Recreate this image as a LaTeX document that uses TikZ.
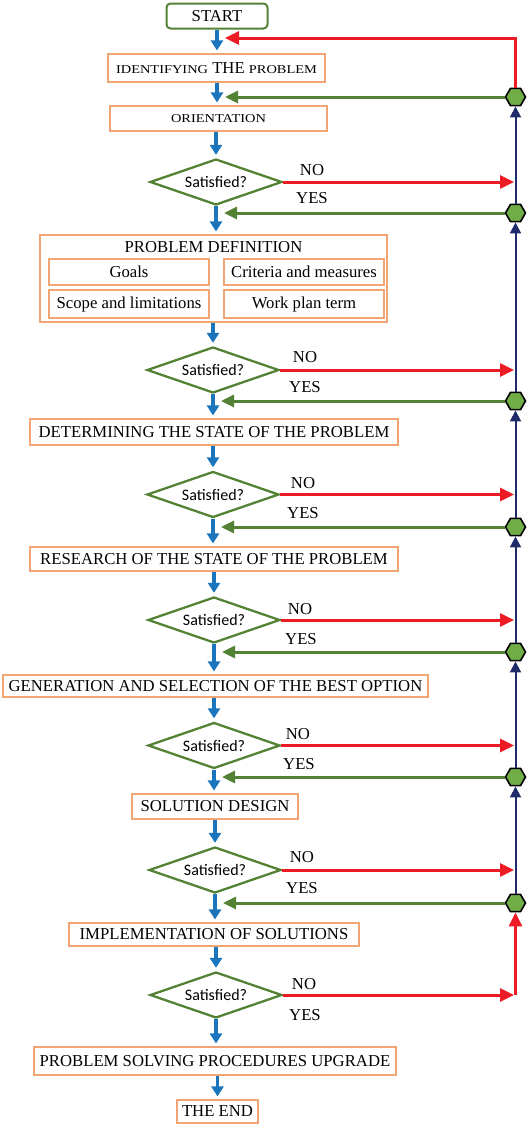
\documentclass[tikz,border=0pt]{standalone}
\usepackage{fontspec}
\usepackage{graphicx}
\setmainfont{Liberation Serif}
\newfontfamily\carl{Carlito}
\usetikzlibrary{shapes.geometric,arrows.meta,calc}
\definecolor{flowblue}{RGB}{27,117,188}
\definecolor{flowred}{RGB}{237,28,36}
\definecolor{flowgreen}{RGB}{84,130,53}
\definecolor{hexfill}{RGB}{112,173,71}
\definecolor{flownavy}{RGB}{31,42,107}
\definecolor{boxorange}{RGB}{240,165,115}
\newcommand\bt{\fontsize{16.7}{18}\selectfont}
\newcommand\fsc[1]{\scalebox{1.2}[1]{\fontsize{12}{14}\selectfont #1}}
\tikzset{
  box/.style={draw=boxorange, line width=1.1pt, inner sep=0pt, font=\bt, fill=white},
  startbox/.style={draw=flowgreen, line width=2pt, rounded corners=4pt, inner sep=0pt, font=\bt, minimum width=101pt, minimum height=25pt},
  dia/.style={diamond, draw=flowgreen, line width=2.3pt, inner sep=0pt, minimum width=132pt, minimum height=46pt, aspect=2.87, font=\carl\fontsize{16}{18}\selectfont},
  hex/.style={regular polygon, regular polygon sides=6, minimum size=20pt, inner sep=0pt, draw=black, line width=1.6pt, fill=hexfill},
  lbl/.style={font=\bt, inner sep=0pt},
  bluearrow/.style={draw=flowblue, line width=3.5pt, -{Triangle[length=10pt,width=12pt]}, shorten >=3pt},
  redarrow/.style={draw=flowred, line width=3pt, -{Triangle[length=14pt,width=13pt]}},
  redline/.style={draw=flowred, line width=3pt},
  greenarrow/.style={draw=flowgreen, line width=3pt, -{Triangle[length=13pt,width=12pt]}},
  navyarrow/.style={draw=flownavy, line width=2pt, -{Triangle[length=11pt,width=11pt]}},
}
\begin{document}
\begin{tikzpicture}[x=1pt,y=-1pt]
\useasboundingbox (0,0) rectangle (529,1125);
% main column
\node[startbox] (start) at (217,16) {START};
\node[box, minimum width=217pt, minimum height=28pt] (ident) at (216.5,68) {\fsc{IDENTIFYING} THE \fsc{PROBLEM}};
\node[box, minimum width=217pt, minimum height=25pt] (orient) at (218.5,118.5) {\fsc{ORIENTATION}};
\node[dia] (d1) at (216,182) {Satisfied?};
\node[box, minimum width=347pt, minimum height=87pt] (pd) at (213.5,278.5) {};
\node[lbl] (pdt) at (213.5,247) {PROBLEM DEFINITION};
\node[box, minimum width=160pt, minimum height=26pt] (goals) at (129,272) {Goals};
\node[box, minimum width=160pt, minimum height=26pt] (crit) at (304,272) {Criteria and measures};
\node[box, minimum width=160pt, minimum height=28pt] (scope) at (129,304) {Scope and limitations};
\node[box, minimum width=160pt, minimum height=28pt] (work) at (304,304) {Work plan term};
\node[dia] (d2) at (213,370) {Satisfied?};
\node[box, minimum width=368pt, minimum height=26pt] (det) at (214,432) {DETERMINING THE STATE OF THE PROBLEM};
\node[dia] (d3) at (213,494.5) {Satisfied?};
\node[box, minimum width=368pt, minimum height=24pt] (res) at (214,559) {RESEARCH OF THE STATE OF THE PROBLEM};
\node[dia] (d4) at (214,620) {Satisfied?};
\node[box, minimum width=425pt, minimum height=22pt] (gen) at (215.5,686) {GENERATION AND SELECTION OF THE BEST OPTION};
\node[dia] (d5) at (214,745.5) {Satisfied?};
\node[box, minimum width=166pt, minimum height=25pt] (sol) at (215,806.5) {SOLUTION DESIGN};
\node[dia] (d6) at (215,870) {Satisfied?};
\node[box, minimum width=290pt, minimum height=23pt] (impl) at (214,934.5) {IMPLEMENTATION OF SOLUTIONS};
\node[dia] (d7) at (216,995) {Satisfied?};
\node[box, minimum width=362pt, minimum height=28pt] (psp) at (215,1061) {PROBLEM SOLVING PROCEDURES UPGRADE};
\node[box, minimum width=81pt, minimum height=23pt] (end) at (217.5,1111.5) {THE END};
% blue flow arrows
\draw[bluearrow] (start.south) -- (start.south |- ident.north);
\draw[bluearrow] (start.south |- ident.south) -- (start.south |- orient.north);
\draw[bluearrow] (d1.north |- orient.south) -- (d1.north);
\draw[bluearrow] (d1.south) -- (d1.south |- pd.north);
\draw[bluearrow] (d2.north |- pd.south) -- (d2.north);
\draw[bluearrow] (d2.south) -- (d2.south |- det.north);
\draw[bluearrow] (d3.north |- det.south) -- (d3.north);
\draw[bluearrow] (d3.south) -- (d3.south |- res.north);
\draw[bluearrow] (d4.north |- res.south) -- (d4.north);
\draw[bluearrow] (d4.south) -- (d4.south |- gen.north);
\draw[bluearrow] (d5.north |- gen.south) -- (d5.north);
\draw[bluearrow] (d5.south) -- (d5.south |- sol.north);
\draw[bluearrow] (d6.north |- sol.south) -- (d6.north);
\draw[bluearrow] (d6.south) -- (d6.south |- impl.north);
\draw[bluearrow] (d7.north |- impl.south) -- (d7.north);
\draw[bluearrow] (d7.south) -- (d7.south |- psp.north);
\draw[bluearrow] (end.north |- psp.south) -- (end.north);
% hexagon junctions
\node[hex] (h0) at (515.5,97) {};
\node[hex] (h1) at (515.5,213) {};
\node[hex] (h2) at (515.5,401) {};
\node[hex] (h3) at (515.5,527) {};
\node[hex] (h4) at (515.5,652) {};
\node[hex] (h5) at (515.5,777) {};
\node[hex] (h6) at (515.5,903) {};
\coordinate (rt) at (225,38);
% navy return line
\draw[navyarrow] (h1.north) -- (h0.south);
\draw[navyarrow] (h2.north) -- (h1.south);
\draw[navyarrow] (h3.north) -- (h2.south);
\draw[navyarrow] (h4.north) -- (h3.south);
\draw[navyarrow] (h5.north) -- (h4.south);
\draw[navyarrow] (h6.north) -- (h5.south);
% top red return
\draw[redarrow] (h0.north) |- (rt);
% YES green arrows
\draw[greenarrow, shorten >=8pt] (h0.west) -- (start.south |- h0);
\draw[greenarrow, shorten >=8pt] (h1.west) -- (d1.south |- h1);
\draw[greenarrow, shorten >=8pt] (h2.west) -- (d2.south |- h2);
\draw[greenarrow, shorten >=8pt] (h3.west) -- (d3.south |- h3);
\draw[greenarrow, shorten >=8pt] (h4.west) -- (d4.south |- h4);
\draw[greenarrow, shorten >=8pt] (h5.west) -- (d5.south |- h5);
\draw[greenarrow, shorten >=8pt] (h6.west) -- (d6.south |- h6);
% NO red arrows
\draw[redarrow, shorten >=1.5pt] (d1.east) -- (d1.east -| h1);
\draw[redarrow, shorten >=1.5pt] (d2.east) -- (d2.east -| h2);
\draw[redarrow, shorten >=1.5pt] (d3.east) -- (d3.east -| h3);
\draw[redarrow, shorten >=1.5pt] (d4.east) -- (d4.east -| h4);
\draw[redarrow, shorten >=1.5pt] (d5.east) -- (d5.east -| h5);
\draw[redarrow, shorten >=1.5pt] (d6.east) -- (d6.east -| h6);
\draw[redarrow, shorten >=1.5pt] (d7.east) -- (d7.east -| h6);
\draw[redarrow] (d7.east -| h6) -- (h6.south);
% labels
\node[lbl] (no1) at (312,170) {NO};
\node[lbl] (yes1) at (312,198) {YES};
\node[lbl] (no2) at (305,357) {NO};
\node[lbl] (yes2) at (305,387) {YES};
\node[lbl] (no3) at (303,483) {NO};
\node[lbl] (yes3) at (303,513) {YES};
\node[lbl] (no4) at (300,609) {NO};
\node[lbl] (yes4) at (301,639) {YES};
\node[lbl] (no5) at (298,734) {NO};
\node[lbl] (yes5) at (299,764) {YES};
\node[lbl] (no6) at (302,857) {NO};
\node[lbl] (yes6) at (302,888) {YES};
\node[lbl] (no7) at (304,984) {NO};
\node[lbl] (yes7) at (305,1015) {YES};
\end{tikzpicture}
\end{document}
